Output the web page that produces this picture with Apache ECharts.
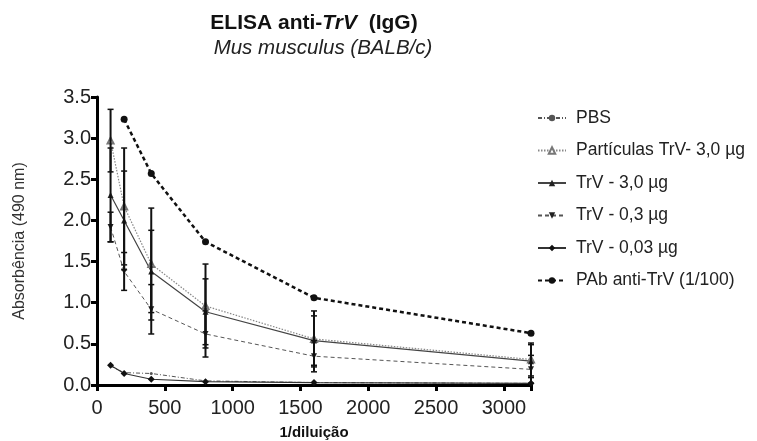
<!DOCTYPE html>
<html>
<head>
<meta charset="utf-8">
<script src="https://cdn.jsdelivr.net/npm/echarts@6/dist/echarts.min.js"></script>
<style>
html,body{margin:0;padding:0;background:#fff;}
#chart{width:757px;height:441px;}
</style>
</head>
<body>
<div id="chart"></div>
<script>
// Data
var dilutions = [100, 200, 400, 800, 1600, 3200];
var dilutionsPAb = [200, 400, 800, 1600, 3200];
var xTicks = [0, 500, 1000, 1500, 2000, 2500, 3000];
var yTicks = [0, 0.5, 1.0, 1.5, 2.0, 2.5, 3.0, 3.5];

var pbs = [0.23, 0.15, 0.14, 0.05, 0.03, 0.02];
var particulas = [2.97, 2.17, 1.47, 0.96, 0.56, 0.31];
var particulasSD = [0.38, 0.71, 0.68, 0.51, 0.34, 0.20];
var trv30 = [2.31, 2.00, 1.38, 0.89, 0.54, 0.29];
var trv30SD = [0.57, 0.60, 0.50, 0.40, 0.30, 0.20];
var trv03 = [1.92, 1.38, 0.92, 0.62, 0.35, 0.19];
var trv03SD = [0.18, 0.23, 0.30, 0.28, 0.19, 0.17];
var trv003 = [0.24, 0.14, 0.07, 0.04, 0.03, 0.02];
var pab = [3.23, 2.57, 1.74, 1.06, 0.63];

var names = ['PBS', 'Partículas TrV- 3,0 µg', 'TrV - 3,0 µg', 'TrV - 0,3 µg', 'TrV - 0,03 µg', 'PAb anti-TrV (1/100)'];

function pairs(xs, ys) { return xs.map(function (x, i) { return [x, ys[i]]; }); }
function errData(xs, ys, sd) { return xs.map(function (x, i) { return [x, ys[i] - sd[i], ys[i] + sd[i]]; }); }

var errAll = errData(dilutions, particulas, particulasSD)
  .concat(errData(dilutions, trv30, trv30SD))
  .concat(errData(dilutions, trv03, trv03SD));

var chart = echarts.init(document.getElementById('chart'));
var FONT = 'Liberation Sans, Arial, sans-serif';

chart.setOption({
  animation: false,
  backgroundColor: '#fff',
  title: [{
    text: '{b|ELISA anti-}{bi|TrV}{b|  (IgG)}',
    left: 309, top: 8, textAlign: 'center',
    textStyle: { rich: {
      b: { fontFamily: FONT, fontWeight: 'bold', fontSize: 21, color: '#111' },
      bi: { fontFamily: FONT, fontWeight: 'bold', fontStyle: 'italic', fontSize: 21, color: '#111' }
    } }
  }, {
    text: 'Mus musculus (BALB/c)',
    left: 318, top: 33, textAlign: 'center',
    textStyle: { fontFamily: FONT, fontStyle: 'italic', fontWeight: 'normal', fontSize: 20.5, color: '#222' }
  }],
  legend: {
    orient: 'vertical', left: 532, top: 104,
    itemWidth: 28, itemHeight: 8, itemGap: 14.5,
    textStyle: { fontFamily: FONT, fontSize: 17.5, color: '#222', padding: [0, 0, 0, 5] },
    data: names
  },
  grid: { left: 97, right: 226, top: 97, bottom: 56, containLabel: false, outerBoundsMode: 'none' },
  xAxis: {
    type: 'value', min: 0, max: 3200, interval: 500,
    name: '1/diluição', nameLocation: 'middle', nameGap: 40,
    nameTextStyle: { fontFamily: FONT, fontWeight: 'bold', fontSize: 15, color: '#111' },
    axisLine: { show: true, lineStyle: { color: '#000', width: 3 } },
    axisTick: { show: true, length: 6, lineStyle: { color: '#000', width: 3 } },
    axisLabel: {
      fontFamily: FONT, fontSize: 20, color: '#222', margin: 13,
      customValues: xTicks,
      formatter: function (v) { return String(v); }
    },
    splitLine: { show: false }
  },
  yAxis: {
    type: 'value', min: 0, max: 3.5, interval: 0.5,
    name: 'Absorbência (490 nm)', nameLocation: 'middle', nameGap: 69, nameRotate: 90,
    nameTextStyle: { fontFamily: FONT, fontSize: 16, color: '#333' },
    axisLine: { show: true, lineStyle: { color: '#000', width: 3 } },
    axisTick: { show: true, length: 6, lineStyle: { color: '#000', width: 3 } },
    axisLabel: {
      fontFamily: FONT, fontSize: 20, color: '#222', margin: 6,
      formatter: function (v) { return v.toFixed(1); }
    },
    splitLine: { show: false }
  },
  series: [
    {
      name: 'errorbars', type: 'custom', z: 5, silent: true,
      data: errAll,
      renderItem: function (params, api) {
        var x = api.value(0);
        var lo = api.coord([x, Math.max(0, api.value(1))]);
        var hi = api.coord([x, api.value(2)]);
        var w = 3;
        return {
          type: 'group',
          children: [
            { type: 'line', shape: { x1: lo[0], y1: lo[1], x2: hi[0], y2: hi[1] }, style: { stroke: '#111', lineWidth: 2 } },
            { type: 'line', shape: { x1: lo[0] - w, y1: lo[1], x2: lo[0] + w, y2: lo[1] }, style: { stroke: '#111', lineWidth: 1.5 } },
            { type: 'line', shape: { x1: hi[0] - w, y1: hi[1], x2: hi[0] + w, y2: hi[1] }, style: { stroke: '#111', lineWidth: 1.5 } }
          ]
        };
      }
    },
    {
      name: names[0], type: 'line', data: pairs(dilutions, pbs), z: 3,
      symbol: 'circle', symbolSize: 3,
      lineStyle: { color: '#555', width: 1, type: [4, 2, 1, 2] },
      itemStyle: { color: '#555' }
    },
    {
      name: names[1], type: 'line', data: pairs(dilutions, particulas), z: 3,
      symbol: 'emptyTriangle', symbolSize: 6,
      lineStyle: { color: '#888', width: 1.2, type: [1.5, 1.5] },
      itemStyle: { color: '#777', borderColor: '#777', borderWidth: 1 }
    },
    {
      name: names[2], type: 'line', data: pairs(dilutions, trv30), z: 3,
      symbol: 'triangle', symbolSize: 6,
      lineStyle: { color: '#444', width: 1.2 },
      itemStyle: { color: '#222' }
    },
    {
      name: names[3], type: 'line', data: pairs(dilutions, trv03), z: 3,
      symbol: 'triangle', symbolRotate: 180, symbolSize: 6,
      lineStyle: { color: '#555', width: 1, type: [4, 3] },
      itemStyle: { color: '#222' }
    },
    {
      name: names[4], type: 'line', data: pairs(dilutions, trv003), z: 3,
      symbol: 'diamond', symbolSize: 7,
      lineStyle: { color: '#333', width: 1.2 },
      itemStyle: { color: '#111' }
    },
    {
      name: names[5], type: 'line', data: pairs(dilutionsPAb, pab), z: 4,
      symbol: 'circle', symbolSize: 7,
      lineStyle: { color: '#111', width: 2.5, type: [4, 3] },
      itemStyle: { color: '#111' }
    }
  ]
});
</script>
</body>
</html>
